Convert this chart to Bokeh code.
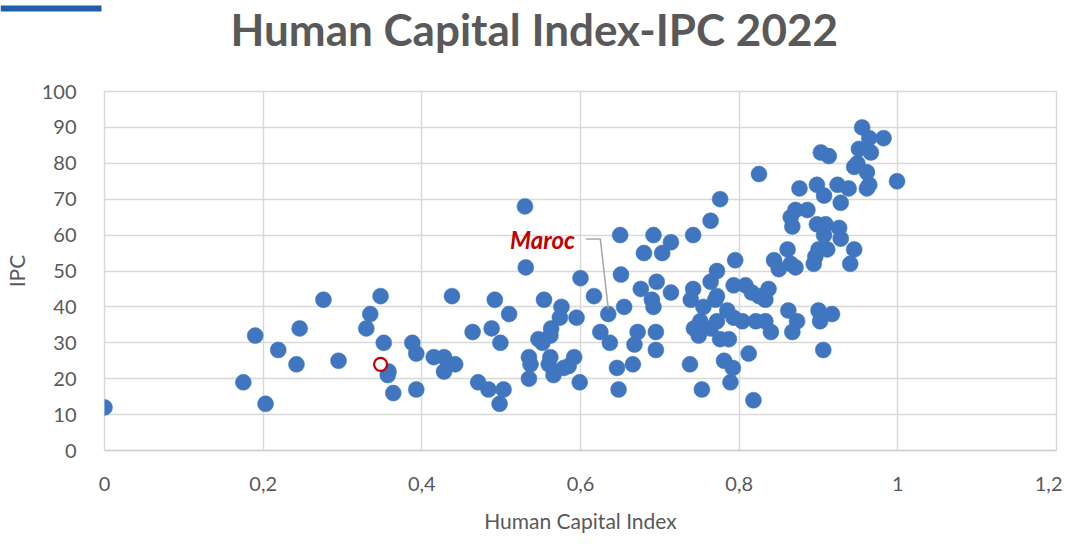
from bokeh.plotting import figure
from bokeh.models import FixedTicker, Label, Range1d
from bokeh.core.properties import value
from bokeh.embed import file_html
from bokeh.resources import INLINE

# Human Capital Index (x) vs IPC (y)
hci = [0.000, 0.175, 0.190, 0.203, 0.219, 0.242, 0.246, 0.276, 0.295, 0.330,
       0.335, 0.348, 0.352, 0.358, 0.357, 0.364, 0.388, 0.393, 0.393, 0.415,
       0.428, 0.428, 0.442, 0.438, 0.464, 0.471, 0.484, 0.488, 0.492, 0.499,
       0.503, 0.498, 0.510, 0.530, 0.531, 0.535, 0.537, 0.535, 0.547, 0.552,
       0.554, 0.562, 0.563, 0.562, 0.560, 0.566, 0.574, 0.576, 0.579, 0.585,
       0.592, 0.595, 0.599, 0.600, 0.617, 0.625, 0.635, 0.637, 0.646, 0.648,
       0.650, 0.651, 0.655, 0.666, 0.668, 0.672, 0.676, 0.680, 0.690, 0.692,
       0.692, 0.695, 0.695, 0.696, 0.703, 0.714, 0.714, 0.738, 0.739, 0.742,
       0.742, 0.743, 0.749, 0.751, 0.753, 0.755, 0.764, 0.764, 0.764, 0.770,
       0.772, 0.772, 0.772, 0.776, 0.776, 0.781, 0.785, 0.787, 0.789, 0.792,
       0.793, 0.793, 0.795, 0.804, 0.808, 0.812, 0.816, 0.818, 0.821, 0.825,
       0.825, 0.833, 0.833, 0.837, 0.840, 0.844, 0.850, 0.861, 0.862, 0.865,
       0.865, 0.867, 0.867, 0.871, 0.871, 0.873, 0.876, 0.886, 0.894, 0.896,
       0.898, 0.898, 0.900, 0.900, 0.902, 0.903, 0.906, 0.907, 0.907, 0.909,
       0.911, 0.913, 0.917, 0.924, 0.926, 0.928, 0.928, 0.938, 0.940, 0.945,
       0.945, 0.949, 0.951, 0.955, 0.961, 0.961, 0.964, 0.964, 0.966, 0.982,
       0.999]
ipc = [12, 19, 32, 13, 28, 24, 34, 42, 25, 34,
       38, 43, 30, 22, 21, 16, 30, 27, 17, 26,
       26, 22, 24, 43, 33, 19, 17, 34, 42, 30,
       17, 13, 38, 68, 51, 26, 24, 20, 31, 30,
       42, 32, 34, 26, 24, 21, 37, 40, 23, 23.5,
       26, 37, 19, 48, 43, 33, 38, 30, 23, 17,
       60, 49, 40, 24, 29.5, 33, 45, 55, 42, 40,
       60, 33, 28, 47, 55, 58, 44, 24, 42, 45,
       60, 34, 32, 36, 17, 40, 34, 47, 64, 42,
       43, 36, 50, 70, 31, 25, 39, 31, 19, 23,
       37, 46, 53, 36, 46, 27, 44, 14, 36, 77,
       43, 36, 42, 45, 33, 53, 50.5, 56, 39, 52,
       65, 62.4, 33, 51, 67, 36, 73, 67, 52, 54,
       63, 74, 56, 39, 36, 83, 28, 71, 60, 63,
       56, 82, 38, 74, 62, 69, 59, 73, 52, 56,
       79, 80, 84, 90, 77.5, 73, 87, 74, 83, 87,
       75]

maroc_x = [0.348]
maroc_y = [24]
maroc_name = "Maroc"

title_text = ["Human Capital Index-IPC 2022"]
x_ticks = [0, 0.2, 0.4, 0.6, 0.8, 1.0, 1.2]
x_tick_labels = ["0", "0,2", "0,4", "0,6", "0,8", "1", "1,2"]
y_ticks = [0, 10, 20, 30, 40, 50, 60, 70, 80, 90, 100]

TXT = "#595959"
DOT = "#3f76bf"
W = 1062
H_TOP = 60

# ---- header strip: title + blue accent bar (pixel coordinates of the strip) ----
top = figure(width=W, height=H_TOP, output_backend="svg", toolbar_location=None,
             x_range=Range1d(0, W), y_range=Range1d(0, H_TOP),
             min_border=0, min_border_left=0, min_border_right=0,
             min_border_top=0, min_border_bottom=0)
top.axis.visible = False
top.grid.visible = False
top.outline_line_color = None
top.background_fill_color = "white"
top.border_fill_color = "white"
top.quad(left=[0], right=[101], bottom=[49], top=[55], fill_color="#1f5fa8", line_color=None)
top.text(x=[230], y=[32], text=title_text, text_align="left", text_baseline="middle",
         text_font=value("Lato"), text_font_size="44px", text_font_style="bold",
         text_color=TXT)

# ---- main scatter ----
p = figure(width=W, height=475, output_backend="svg", toolbar_location=None,
           x_range=Range1d(0, 1.2), y_range=Range1d(0, 100),
           min_border_left=96, min_border_right=6, min_border_top=31, min_border_bottom=81)

p.outline_line_color = "#d9d9d9"
p.outline_line_width = 1.5
p.background_fill_color = "white"
p.border_fill_color = "white"

for ax in (p.xaxis[0], p.yaxis[0]):
    ax.major_tick_line_color = None
    ax.minor_tick_line_color = None
    ax.major_label_text_font = "Lato"
    ax.major_label_text_font_size = "20px"
    ax.major_label_text_color = TXT
    ax.axis_label_text_font = "Lato"
    ax.axis_label_text_font_size = "21px"
    ax.axis_label_text_font_style = "normal"
    ax.axis_label_text_color = TXT

p.xaxis.ticker = FixedTicker(ticks=x_ticks)
p.xaxis.major_label_overrides = {t: l for t, l in zip(x_ticks, x_tick_labels)}
p.xaxis.axis_label = "Human Capital Index"
p.xaxis.axis_line_color = "#d0d0d0"
p.xaxis.axis_line_width = 1.5
p.xaxis.major_label_standoff = 20
p.xaxis.axis_label_standoff = 14

p.yaxis.ticker = FixedTicker(ticks=y_ticks)
p.yaxis.axis_label = "IPC"
p.yaxis.axis_line_color = None
p.yaxis.major_label_standoff = 22
p.yaxis.axis_label_standoff = 10

p.xgrid.ticker = FixedTicker(ticks=x_ticks)
p.ygrid.ticker = FixedTicker(ticks=y_ticks)
p.grid.grid_line_color = "#d9d9d9"
p.grid.grid_line_width = 1.5

p.scatter(hci, ipc, size=16, fill_color=DOT, line_color=DOT, line_width=0.5)
p.scatter(maroc_x, maroc_y, size=13, fill_color="white", line_color="#c00000", line_width=2.2)

# Maroc data label with leader line
p.line([0.607, 0.625, 0.635], [58.9, 58.9, 39.5], line_color="#a6a6a6", line_width=1.5)
p.add_layout(Label(x=0.593, y=58.9, text=maroc_name, text_align="right", text_baseline="middle",
                   text_font="Lato", text_font_size="24px", text_font_style="bold italic",
                   text_color="#c00000"))

open("out.html", "w").write(file_html([top, p], INLINE))
